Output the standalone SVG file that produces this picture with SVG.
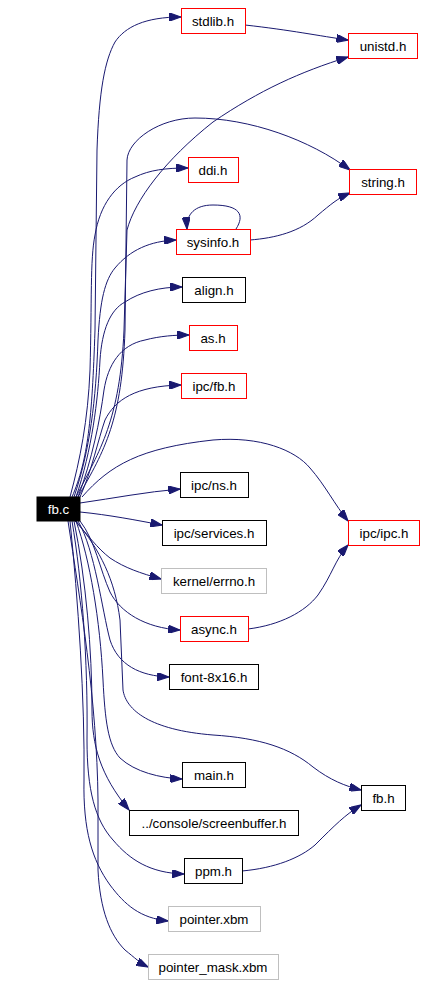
<svg xmlns="http://www.w3.org/2000/svg" width="426" height="986" viewBox="0 0 426 986">
<style>
.n rect{fill:#fff;stroke-width:1}
.r rect{stroke:#ff0000}
.k rect{stroke:#000}
.g rect{stroke:#bfbfbf}
.n text{font-family:"Liberation Sans",Arial,sans-serif;font-size:13.33px;text-anchor:middle;fill:#000}
#e path{fill:none;stroke:#191970;stroke-width:1;marker-end:url(#a)}
</style>
<defs>
<marker id="a" viewBox="0 0 10 7" refX="10" refY="3.5" markerWidth="12" markerHeight="8" markerUnits="userSpaceOnUse" orient="auto">
<path d="M0,0 L10,3.5 L0,7 z" fill="#191970" stroke="#191970"/>
</marker>
</defs>
<rect width="426" height="986" fill="#fff"/>
<g id="e">
<path d="M72,497 C88,460 92,420 95,330 L97,150 C99,90 105,60 115,42 C125,27 145,17 181,17"/>
<path d="M245,25 C290,30 320,36 348,40"/>
<path d="M76,497 C100,450 120,420 124,330 L127,230 C135,200 165,160 213,122 C260,90 300,72 348,57"/>
<path d="M78,497 C105,450 122,420 125,330 L127,160 C128,140 160,118 195,118 C250,118 310,140 350,170"/>
<path d="M70,497 C80,460 88,420 90,370 C92,300 90,260 95,235 C100,205 115,185 135,177 C150,170 165,168 188,168"/>
<path d="M236,229 C245,215 240,205 213,205 C195,205 186,214 187,229"/>
<path d="M250,240 C275,238 300,232 318,215 C330,205 338,198 350,193"/>
<path d="M74,497 C90,450 96,400 98,340 C100,300 105,280 115,268 C130,250 150,241 176,240"/>
<path d="M76,497 C92,450 98,400 100,360 C102,330 110,310 125,302 C140,292 160,287 182,287"/>
<path d="M78,497 C92,460 100,420 104,390 C108,365 120,345 145,340 C160,336 175,335 189,335"/>
<path d="M80,497 C92,470 98,440 105,420 C115,400 135,386 181,385"/>
<path d="M82,497 C110,465 140,448 213,440 C260,436 295,450 310,468 C325,485 335,505 348,521"/>
<path d="M80,503 C115,498 145,492 180,489"/>
<path d="M80,512 C110,515 135,520 162,525"/>
<path d="M75,521 C88,535 97,548 110,558 C125,568 140,573 161,579"/>
<path d="M80,521 C95,540 100,570 110,592 C120,612 145,628 180,630"/>
<path d="M78,521 C95,550 102,610 110,640 C118,665 140,676 169,677"/>
<path d="M76,521 C100,550 115,580 120,620 L123,690 C126,710 150,730 213,735 C260,738 290,748 313,767 C330,780 345,786 361,790"/>
<path d="M248,629 C280,625 305,612 318,595 C332,575 335,560 348,545"/>
<path d="M242,871 C275,868 300,858 315,845 C335,825 345,815 361,805"/>
<path d="M76,521 C90,560 100,620 103,680 C105,720 108,745 120,758 C135,772 160,778 182,779"/>
<path d="M74,521 C86,580 92,650 92,710 C92,745 100,775 129,810"/>
<path d="M72,521 C82,580 88,660 87,740 C87,790 95,820 113,840 C130,860 150,873 184,874"/>
<path d="M70,521 C78,600 85,700 84,780 C83,830 92,860 110,885 C125,905 140,918 168,921"/>
<path d="M68,521 C80,600 97,700 98,800 L98,870 C100,910 110,935 125,950 C135,958 140,963 148,967"/>
</g>
<g id="n_stdlib" class="n r"><rect x="181.5" y="8.5" width="64" height="25"/><text x="213" y="25.5">stdlib.h</text></g>
<g id="n_unistd" class="n r"><rect x="348.5" y="33.5" width="69" height="25"/><text x="383" y="50.5">unistd.h</text></g>
<g id="n_string" class="n r"><rect x="349.5" y="169.5" width="67" height="25"/><text x="383" y="186.5">string.h</text></g>
<g id="n_ddi" class="n r"><rect x="188.5" y="157.5" width="50" height="25"/><text x="213" y="174.5">ddi.h</text></g>
<g id="n_sysinfo" class="n r"><rect x="176.5" y="229.5" width="74" height="25"/><text x="213" y="246.5">sysinfo.h</text></g>
<g id="n_align" class="n k"><rect x="182.5" y="277.5" width="63" height="25"/><text x="214" y="294.5">align.h</text></g>
<g id="n_as" class="n r"><rect x="189.5" y="325.5" width="48" height="25"/><text x="213" y="342.5">as.h</text></g>
<g id="n_ipcfb" class="n r"><rect x="181.5" y="373.5" width="65" height="25"/><text x="214" y="390.5">ipc/fb.h</text></g>
<g id="n_ipcns" class="n k"><rect x="180.5" y="472.5" width="68" height="25"/><text x="214" y="489.5">ipc/ns.h</text></g>
<g id="n_fbc" class="n"><rect x="37" y="497" width="43" height="24" fill="#000" style="fill:#000;stroke:#000"/><text x="58.5" y="514" style="fill:#fff">fb.c</text></g>
<g id="n_services" class="n k"><rect x="162.5" y="520.5" width="104" height="25"/><text x="214" y="537.5">ipc/services.h</text></g>
<g id="n_errno" class="n g"><rect x="161.5" y="568.5" width="105" height="25"/><text x="214" y="585.5">kernel/errno.h</text></g>
<g id="n_async" class="n r"><rect x="180.5" y="616.5" width="68" height="25"/><text x="214" y="633.5">async.h</text></g>
<g id="n_font" class="n k"><rect x="169.5" y="664.5" width="89" height="25"/><text x="214" y="681.5">font-8x16.h</text></g>
<g id="n_ipcipc" class="n r"><rect x="348.5" y="520.5" width="71" height="25"/><text x="384" y="537.5">ipc/ipc.h</text></g>
<g id="n_main" class="n k"><rect x="182.5" y="762.5" width="63" height="25"/><text x="214" y="779.5">main.h</text></g>
<g id="n_screenbuffer" class="n k"><rect x="129.5" y="810.5" width="169" height="25"/><text x="214" y="827.5">../console/screenbuffer.h</text></g>
<g id="n_ppm" class="n k"><rect x="184.5" y="858.5" width="58" height="25"/><text x="213.5" y="875.5">ppm.h</text></g>
<g id="n_pointer" class="n g"><rect x="168.5" y="906.5" width="92" height="25"/><text x="214" y="923.5">pointer.xbm</text></g>
<g id="n_pointermask" class="n g"><rect x="148.5" y="954.5" width="130" height="25"/><text x="213" y="971.5">pointer_mask.xbm</text></g>
<g id="n_fbh" class="n k"><rect x="361.5" y="785.5" width="44" height="25"/><text x="383.5" y="802.5">fb.h</text></g>
</svg>
